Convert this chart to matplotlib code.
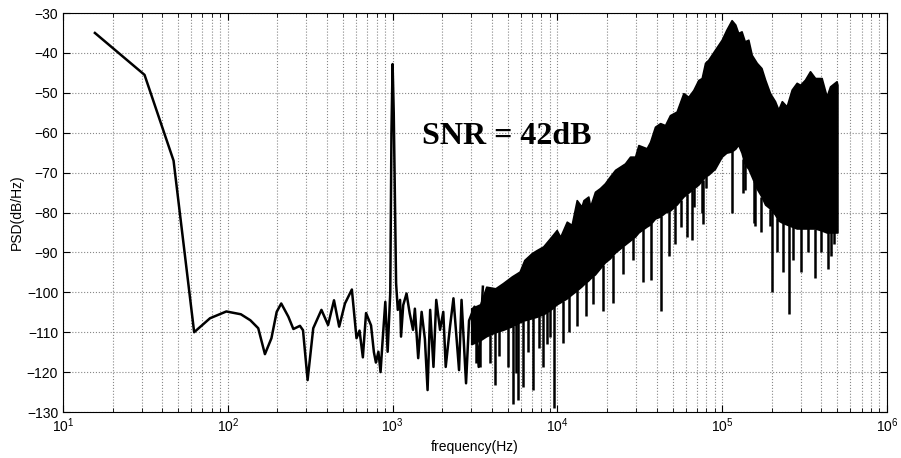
import numpy as np
import matplotlib
matplotlib.use('Agg')
import matplotlib.pyplot as plt
from matplotlib.ticker import LogLocator, MultipleLocator

# 低频段 + 1kHz 信号峰 (读图得到)
f_line = [15.625, 31.25, 46.875, 62.5, 78, 98, 120, 137, 153, 168, 184, 198, 211, 233, 250,
          274, 286, 305, 330, 370, 406, 441, 474, 514, 566, 604, 630, 660, 690, 740, 770,
          792, 820, 845, 870, 903, 933, 968, 984, 1000, 1016, 1050, 1075, 1110, 1125, 1160,
          1215, 1270, 1330, 1365, 1430, 1500, 1570, 1630, 1690, 1770, 1840, 1940, 2030, 2100,
          2230, 2340, 2530, 2620, 2790, 2910, 3140, 3330, 3530]
psd_line = [-35, -45.5, -67, -110, -106.5, -104.8, -105.5, -107, -109, -115.5, -111.5, -104.9,
            -102.8, -106.1, -109.2, -108.4, -109.5, -122, -109, -104.4, -108.2, -102, -108.6,
            -102.8, -99.3, -111.5, -109.6, -116.3, -105.2, -108.3, -115, -117.6, -114.9, -120,
            -112, -102.4, -114.9, -100, -60, -42.8, -55, -97.7, -104.4, -101.9, -111.1, -103.2,
            -100.3, -105.3, -109.4, -104.1, -116.5, -104.9, -111.7, -124.5, -104.4, -118.7,
            -101.9, -109.4, -104.9, -118.7, -108.6, -101.5, -119.5, -101.9, -122.8, -107.1,
            -103.6, -118.7, -98.6]

# 高频噪声带的上下包络
f_band = [3000, 3400, 3700, 4200, 4670, 5300, 5900, 6300, 6980, 7500, 8200, 9000, 9900,
          10400, 11400, 12200, 13100, 14000, 14400, 15400, 15800, 16900, 18100, 19400, 20800,
          22400, 24000, 25700, 27600, 29600, 31000, 34800, 36500, 39100, 42000, 45000, 48200,
          52900, 58100, 62300, 66800, 71600, 75100, 78700, 82400, 90400, 99300, 106000,
          114000, 120000, 125000, 131000, 137000, 144000, 151000, 162000, 173000, 182000,
          195000, 209000, 219000, 230000, 246000, 264000, 283000, 297000, 318000, 341000,
          366000, 401000, 430000, 451000, 494000, 500000]
band_hi = [-104, -103, -98.6, -99, -97.7, -96, -94.8, -91.9, -90.2, -89.4, -88.5, -86.5, -84.4,
           -86.1, -82.3, -83.1, -76.9, -78.5, -76.9, -76.0, -78.5, -74.8, -73.9, -72.7, -71.0,
           -69.3, -68.5, -67.7, -66.0, -66.0, -63.1, -63.9, -62.3, -58.5, -57.6, -58.1, -55.6,
           -54.7, -50.1, -51.0, -49.3, -46.8, -46.3, -42.5, -41.7, -39.2, -36.7, -34.2, -31.8,
           -32.9, -35.0, -34.6, -37.1, -36.7, -40.5, -42.5, -43.8, -46.7, -50.1, -52.1, -54.2,
           -52.1, -53.4, -49.2, -47.5, -48.0, -46.7, -44.6, -46.3, -46.3, -50.9, -48.4, -47.1,
           -48]
band_lo = [-113, -112, -111, -110, -109.4, -108.5, -107.5, -107, -106.5, -106.1, -105.5,
           -104.5, -103, -102.5, -101.5, -100.5, -99.5, -98.5, -98, -97, -96.5, -95.5, -94,
           -92.5, -91.5, -90, -89, -88, -87, -86, -85, -83.5, -83, -81.5, -81, -80, -79.5, -78,
           -76, -75, -74, -73, -72, -71, -70.5, -69, -66, -65, -64.7, -64, -63, -65, -68, -69,
           -71, -74, -76, -78, -79, -80.5, -82, -82.5, -83, -83.5, -84, -84, -84, -84, -84,
           -84.5, -85, -85, -85, -85]

# 向下的尖刺
f_spike = [3200, 3400, 3880, 4180, 4450, 5000, 5400, 5600, 5800, 6200, 6600, 7100, 7700, 8200,
           8600, 9000, 9600, 10800, 11800, 13100, 15000, 16500, 18900, 21700, 25000, 28600,
           33000, 37000, 42500, 47800, 52000, 56000, 61000, 65500, 67000, 75000, 76000, 80000,
           115000, 134000, 137000, 155000, 157000, 173000, 195000, 200000, 215000, 233000,
           254000, 270000, 300000, 330000, 368000, 400000, 436000, 460000, 480000]
v_spike = [-117.8, -118.7, -117.8, -123.2, -116, -118.7, -127.9, -120.3, -127, -123.7, -115,
           -124.5, -114, -118.7, -113, -111.1, -129, -112.8, -110, -108.5, -106, -103, -104.8,
           -102.8, -95.4, -92, -97.3, -97, -104.8, -91, -88, -83.6, -86.2, -86.8, -78.5, -80.1,
           -83, -73.9, -80, -75, -74.3, -82.6, -83.4, -85, -83.5, -100, -90, -95, -105.5, -92,
           -95, -90, -96.5, -90, -94.1, -90.8, -88]

plt.rcParams['font.family'] = ['Liberation Sans', 'DejaVu Sans']
plt.rcParams['mathtext.default'] = 'regular'

fig = plt.figure(figsize=(9.01, 4.58), dpi=100)
ax = fig.add_axes([0.0699, 0.1004, 0.9146, 0.8712])
ax.set_axisbelow(True)

ax.plot(f_line, psd_line, color='black', lw=1.8, zorder=3)
ax.fill_between(f_band, band_lo, band_hi, facecolor='black', edgecolor='black', lw=1.2, zorder=3)
top = np.interp(np.log10(f_spike), np.log10(f_band), band_lo)
ax.vlines(f_spike, v_spike, top, color='black', lw=1.8, zorder=3)

ax.set_xscale('log')
ax.set_xlim(10, 1e6)
ax.set_ylim(-130, -30)
ax.yaxis.set_major_locator(MultipleLocator(10))
ax.xaxis.set_major_locator(LogLocator(base=10, numticks=10))
ax.xaxis.set_minor_locator(LogLocator(base=10, subs=np.arange(2, 10), numticks=100))

ax.grid(True, which='major', color='#888888', ls=':', lw=0.8)
ax.grid(True, which='minor', axis='x', color='#888888', ls=':', lw=0.8)
ax.tick_params(which='both', direction='in', top=True, right=True, labelsize=10)
ax.tick_params(which='major', length=5)
ax.tick_params(which='minor', length=3)
for s in ax.spines.values():
    s.set_linewidth(0.8)

ax.set_xlabel('frequency(Hz)', fontsize=10, labelpad=3)
ax.set_ylabel('PSD(dB/Hz)', fontsize=10, labelpad=2)

ax.text(1500, -62.9, 'SNR = 42dB', fontsize=23, fontweight='bold',
        family=['Liberation Serif', 'DejaVu Serif'], va='baseline', ha='left', zorder=4)

fig.savefig('out.png', dpi=100)
